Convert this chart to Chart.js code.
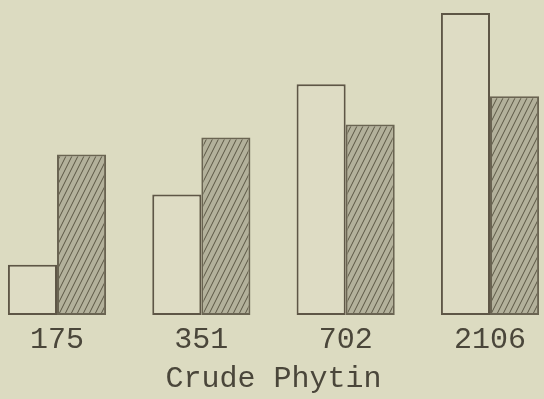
<!DOCTYPE html>
<html>
<head>
<meta charset="utf-8">
<script src="https://cdn.jsdelivr.net/npm/chart.js@4"></script>
<style>
  html, body { margin: 0; padding: 0; background: #dcdbc1; }
  canvas { display: block; }
</style>
</head>
<body>
<canvas id="phytinChart" width="544" height="399"></canvas>
<script>
// Data (heights in arbitrary units)
const doses = ['175', '351', '702', '2106'];
const plainBars = [50, 120, 230, 301];
const hatchedBars = [160, 177, 190, 218];

// Hatch fill for the shaded bars
function makeHatch() {
    const c = document.createElement('canvas');
    c.width = 6; c.height = 12;
    const g = c.getContext('2d');
    g.fillStyle = '#b3b19b';
    g.fillRect(0, 0, 6, 12);
    g.strokeStyle = 'rgba(80, 75, 58, 0.9)';
    g.lineWidth = 1;
    for (let x = 0; x <= 12; x += 6) {
        g.beginPath();
        g.moveTo(x - 6, 12);
        g.lineTo(x, 0);
        g.stroke();
    }
    return document.getElementById('phytinChart').getContext('2d').createPattern(c, 'repeat');
}

const ctx = document.getElementById('phytinChart').getContext('2d');
const typeFont = "'Liberation Mono', 'Courier New', monospace";

new Chart(ctx, {
    type: 'bar',
    data: {
        labels: doses,
        datasets: [
            { data: plainBars, backgroundColor: '#dedcc4', borderColor: '#5e5646', borderWidth: 2, borderSkipped: false, clip: false },
            { data: hatchedBars, backgroundColor: makeHatch(), borderColor: '#6a6452', borderWidth: 2, borderSkipped: false, clip: false }
        ]
    },
    options: {
        responsive: false,
        animation: false,
        layout: { padding: { left: 57, right: 54, top: 10, bottom: 3 } },
        plugins: { legend: { display: false }, tooltip: { enabled: false } },
        datasets: { bar: { barPercentage: 1, categoryPercentage: 0.68 } },
        scales: {
            x: {
                offset: false,
                grid: { display: false },
                border: { display: false },
                ticks: { color: '#4a463a', font: { family: typeFont, size: 30, lineHeight: 1.1 }, padding: 1, maxRotation: 0 },
                title: { display: true, text: 'Crude Phytin', color: '#4a463a', font: { family: typeFont, size: 30, lineHeight: 1.1 }, padding: { top: 5, bottom: 0 } }
            },
            y: { display: false, min: 0, max: 304 }
        }
    }
});
</script>
</body>
</html>
